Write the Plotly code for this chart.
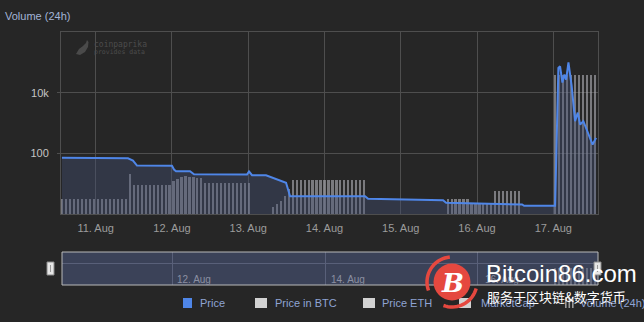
import pandas as pd
import plotly.graph_objects as go

# ---------------- data ----------------
price_times = [
    "2018-08-10 13:23", "2018-08-11 10:10", "2018-08-11 11:44", "2018-08-11 13:00",
    "2018-08-12 00:00", "2018-08-12 00:39", "2018-08-12 01:17", "2018-08-12 05:41",
    "2018-08-12 06:56", "2018-08-12 23:37", "2018-08-13 00:15", "2018-08-13 01:12",
    "2018-08-13 05:36", "2018-08-13 11:54", "2018-08-13 13:10", "2018-08-14 12:46",
    "2018-08-14 13:43", "2018-08-14 23:47", "2018-08-15 06:05", "2018-08-15 13:19",
    "2018-08-15 14:16", "2018-08-16 07:16", "2018-08-16 14:11", "2018-08-16 14:49",
    "2018-08-16 23:56", "2018-08-17 00:34", "2018-08-17 01:36", "2018-08-17 02:08",
    "2018-08-17 02:52", "2018-08-17 03:30", "2018-08-17 04:02", "2018-08-17 04:46",
    "2018-08-17 05:47", "2018-08-17 06:14", "2018-08-17 06:51", "2018-08-17 07:42",
    "2018-08-17 08:26", "2018-08-17 09:28", "2018-08-17 10:10", "2018-08-17 10:57",
    "2018-08-17 12:22", "2018-08-17 13:28",
]
price_values = [
    72, 70, 58.9, 40.3,
    39.4, 29.8, 26.2, 26.2,
    20.9, 20.4, 25.6, 19.3,
    19.3, 10.9, 3.94, 3.94,
    3.24, 3.07, 3.1, 2.91,
    2.39, 2.26, 2.1, 1.9,
    1.87, 1.9, 65900, 74500,
    21700, 39800, 27200, 100700,
    16400, 4770, 1160, 2230,
    900, 1160, 773, 490,
    198, 328,
]

volume_start = "2018-08-10 13:30"
volume_step = "75min"
volume_values = (
    [3.2] * 17 + [22] + [9.5] * 10
    + [12.3, 14.8, 16.3, 18.1, 17.2, 16.3, 16, 16]
    + [11] * 12 + [None] * 5
    + [1.7, 2.2, 2.8, 4.0, 6.6]
    + [13.3] * 19 + [None] * 20
    + [3.2] * 6 + [2.3] * 6 + [5.8] * 7
    + [None] * 8 + [39000] * 11
)
volume_times = pd.date_range(volume_start, periods=len(volume_values), freq=volume_step)

x_ticks = ["2018-08-11", "2018-08-12", "2018-08-13", "2018-08-14",
           "2018-08-15", "2018-08-16", "2018-08-17"]
x_ticktext = ["11. Aug", "12. Aug", "13. Aug", "14. Aug", "15. Aug", "16. Aug", "17. Aug"]
y_ticks = [100, 10000]
y_ticktext = ["100", "10k"]
nav_ticks = ["2018-08-12", "2018-08-14", "2018-08-16"]
nav_ticktext = ["12. Aug", "14. Aug", "16. Aug"]
x_range = ["2018-08-10 13:05", "2018-08-17 14:04"]

legend_items = ["Price", "Price in BTC", "Price ETH", "MarketCap", "Volume (24h)"]

# ---------------- layout helpers ----------------
W, H = 644, 322
L, R, T, B = 61, 46, 32, 37
PW, PH = W - L - R, H - T - B


def px(x):
    return (x - L) / PW


def py(y):
    return (H - B - y) / PH


BG = "#262626"
GRID = "#4e4e4e"
BLUE = "#4f86e8"
LEG_TXT = "#8fa4d4"
FONT = "Liberation Sans, Arial, sans-serif"

fig = go.Figure()

bar_w_ms = 0.55 * 75 * 60 * 1000

fig.add_trace(go.Bar(
    x=volume_times, y=volume_values, width=bar_w_ms,
    marker=dict(color="rgba(175,175,180,0.62)", line=dict(width=0)),
    name="Volume (24h)", showlegend=False, xaxis="x", yaxis="y",
))
fig.add_trace(go.Scatter(
    x=price_times, y=price_values, mode="lines",
    line=dict(color=BLUE, width=2), fill="tozeroy",
    fillcolor="rgba(70,82,120,0.40)",
    name="Price", showlegend=False, xaxis="x", yaxis="y",
))
# navigator series
fig.add_trace(go.Bar(
    x=volume_times, y=volume_values, width=bar_w_ms,
    marker=dict(color="rgba(150,155,170,0.45)", line=dict(width=0)),
    showlegend=False, xaxis="x2", yaxis="y2", hoverinfo="skip",
))

main_bottom = 214
nav_top, nav_bot = 252, 285

shapes = []
# navigator background
shapes.append(dict(type="rect", xref="paper", yref="paper", layer="below",
                   x0=px(62), x1=px(598), y0=py(nav_bot), y1=py(nav_top),
                   fillcolor="#3b4258", line=dict(width=0)))
shapes.append(dict(type="rect", xref="paper", yref="paper", layer="above",
                   x0=px(62), x1=px(598), y0=py(nav_bot), y1=py(nav_top),
                   fillcolor="rgba(0,0,0,0)", line=dict(color="#b9b9b9", width=1)))
# handles
for hx in (50.5, 597.5):
    shapes.append(dict(type="rect", xref="paper", yref="paper", layer="above",
                       x0=px(hx - 3.5), x1=px(hx + 3.5), y0=py(275), y1=py(262),
                       fillcolor="#e6e6e6", line=dict(color="#8a8a8a", width=1)))
    shapes.append(dict(type="line", xref="paper", yref="paper", layer="above",
                       x0=px(hx), x1=px(hx), y0=py(272), y1=py(265),
                       line=dict(color="#9a9a9a", width=1)))

# legend symbols
legend_sym = [(183, 192, BLUE), (255, 267, "#d2d2d2"), (363, 375, "#d2d2d2"), (459, 471, "#d2d2d2")]
for x0, x1, c in legend_sym:
    shapes.append(dict(type="rect", xref="paper", yref="paper", layer="above",
                       x0=px(x0), x1=px(x1), y0=py(308), y1=py(298),
                       fillcolor=c, line=dict(width=0)))
for bx in (565, 568.5, 572):
    shapes.append(dict(type="rect", xref="paper", yref="paper", layer="above",
                       x0=px(bx), x1=px(bx + 1.6), y0=py(308), y1=py(297),
                       fillcolor="#9a9a9a", line=dict(width=0)))


def pth(points):
    s = "M %f %f" % (px(points[0][0]), py(points[0][1]))
    for p in points[1:]:
        s += " L %f %f" % (px(p[0]), py(p[1]))
    return s + " Z"


# coinpaprika chili icon
shapes.append(dict(type="path", xref="paper", yref="paper", layer="below",
                   path=pth([(76, 54), (79, 49), (83, 46), (86, 43), (87, 40), (88.5, 42),
                             (88, 47), (85, 52), (80, 55)]),
                   fillcolor="#4a4a4a", line=dict(width=0)))

# Bitcoin86 watermark circle and arcs
cx, cy, r = 452, 282, 18.5
shapes.append(dict(type="circle", xref="paper", yref="paper", layer="above",
                   x0=px(cx - r), x1=px(cx + r), y0=py(cy + r), y1=py(cy - r),
                   fillcolor="#e5483f", line=dict(width=0)))
import math


def arc(a0, a1, rad, n=18):
    pts = []
    for k in range(n + 1):
        a = math.radians(a0 + (a1 - a0) * k / n)
        pts.append((px(cx + rad * math.cos(a)), py(cy - rad * math.sin(a))))
    s = "M %f %f" % pts[0]
    for p in pts[1:]:
        s += " L %f %f" % p
    return s


shapes.append(dict(type="path", xref="paper", yref="paper", layer="above",
                   path=arc(95, 200, 25), line=dict(color="#e5483f", width=3.5)))
shapes.append(dict(type="path", xref="paper", yref="paper", layer="above",
                   path=arc(250, 345, 25), line=dict(color="#e5483f", width=3.5)))

annotations = []
annotations.append(dict(text="Volume (24h)", xref="paper", yref="paper",
                        x=px(3), y=py(16), xanchor="left", yanchor="middle", showarrow=False,
                        font=dict(family=FONT, size=11, color="#a3b4d6")))
annotations.append(dict(text="coinpaprika", xref="paper", yref="paper",
                        x=px(92), y=py(44.5), xanchor="left", yanchor="middle", showarrow=False,
                        font=dict(family="DejaVu Sans Mono, monospace", size=8, color="#4c4c4c")))
annotations.append(dict(text="provides data", xref="paper", yref="paper",
                        x=px(92), y=py(52), xanchor="left", yanchor="middle", showarrow=False,
                        font=dict(family="DejaVu Sans Mono, monospace", size=6.5, color="#4c4c4c")))
nav_label_x = [175, 329, 483]
for t, lx in zip(nav_ticktext, nav_label_x):
    annotations.append(dict(text=t, xref="paper", yref="paper", x=px(lx), y=py(279),
                            xanchor="left", yanchor="middle", showarrow=False,
                            font=dict(family=FONT, size=10, color="#8b90a2")))
legend_text_x = [198, 273, 380, 479, 578]
for t, lx in zip(legend_items, legend_text_x):
    annotations.append(dict(text=t, xref="paper", yref="paper", x=px(lx), y=py(303),
                            xanchor="left", yanchor="middle", showarrow=False,
                            font=dict(family=FONT, size=11, color=LEG_TXT)))
# Bitcoin86 watermark texts
annotations.append(dict(text="<b><i>B</i></b>", xref="paper", yref="paper", x=px(cx), y=py(cy + 1),
                        xanchor="center", yanchor="middle", showarrow=False,
                        font=dict(family="DejaVu Serif, serif", size=26, color="white")))
annotations.append(dict(text="Bitcoin86.com", xref="paper", yref="paper", x=px(484), y=py(273),
                        xanchor="left", yanchor="middle", showarrow=False,
                        font=dict(family=FONT, size=24, color="white")))
annotations.append(dict(text="服务于区块链&数字货币", xref="paper", yref="paper", x=px(485), y=py(296),
                        xanchor="left", yanchor="middle", showarrow=False,
                        font=dict(family="Noto Sans CJK SC", size=13, color="white")))

fig.update_layout(
    width=W, height=H,
    margin=dict(l=L, r=R, t=T, b=B, pad=0),
    paper_bgcolor=BG, plot_bgcolor=BG,
    showlegend=False, bargap=0,
    font=dict(family=FONT, size=11, color="#aaaaaa"),
    shapes=shapes, annotations=annotations,
    xaxis=dict(domain=[0, 1], anchor="y", range=x_range, type="date",
               tickmode="array", tickvals=x_ticks, ticktext=x_ticktext,
               showgrid=True, gridcolor=GRID, gridwidth=1,
               showline=True, linecolor=GRID, mirror=True,
               ticks="", tickfont=dict(size=11, color="#9c9c9c"),
               ticklabelstandoff=4, zeroline=False, fixedrange=True),
    yaxis=dict(domain=[py(main_bottom), 1], anchor="x", type="log", range=[0.01, 6],
               tickmode="array", tickvals=y_ticks, ticktext=y_ticktext,
               showgrid=True, gridcolor=GRID, gridwidth=1,
               showline=True, linecolor=GRID, mirror=True,
               ticks="outside", ticklen=3, tickcolor=GRID,
               tickfont=dict(size=11, color="#c4c4c4"), ticklabelstandoff=6,
               zeroline=False),
    xaxis2=dict(domain=[px(62), px(598)], anchor="y2", range=x_range, type="date",
                tickmode="array", tickvals=nav_ticks, showticklabels=False,
                showgrid=True, gridcolor="#596079", showline=False, ticks="",
                zeroline=False),
    yaxis2=dict(domain=[0, py(nav_top)], anchor="x2", range=[0, 75000],
                tickvals=[50000], showticklabels=False, showgrid=True,
                gridcolor="#596079", showline=False, ticks="", zeroline=False),
)

fig.write_html("out.html")
